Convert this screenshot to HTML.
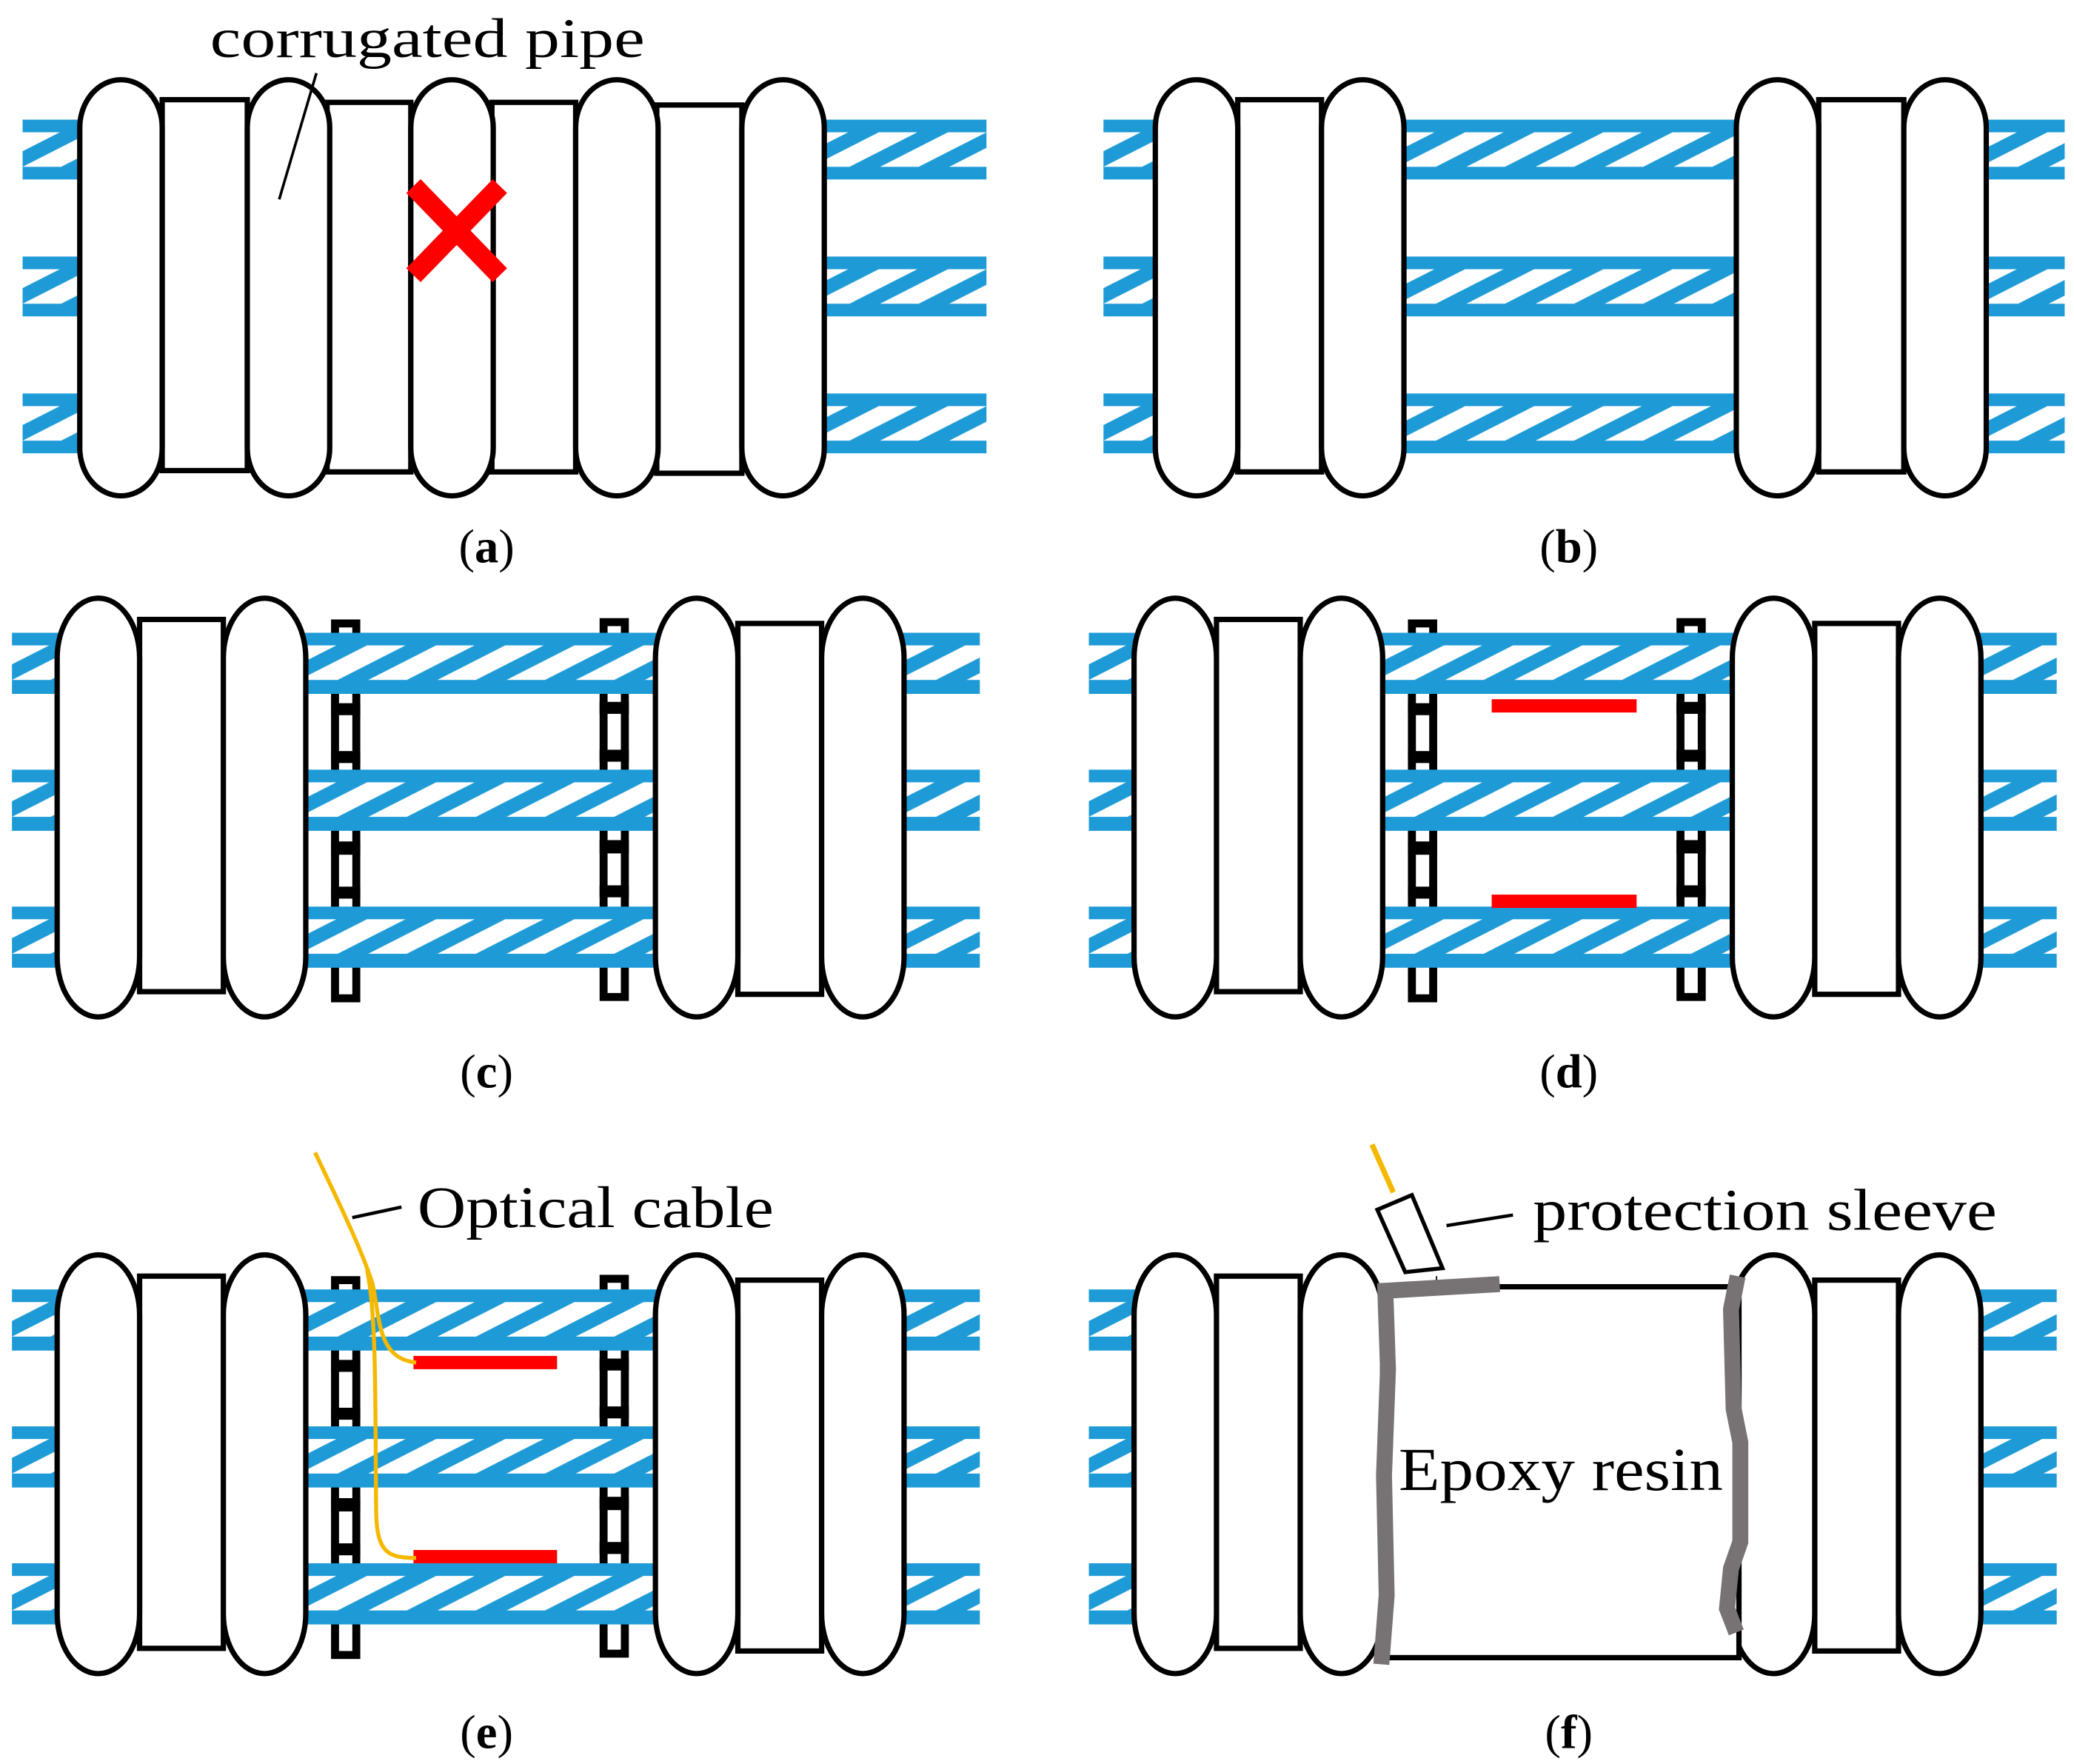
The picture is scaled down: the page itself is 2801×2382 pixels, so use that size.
<!DOCTYPE html>
<html><head><meta charset="utf-8"><style>
html,body{margin:0;padding:0;background:#fff}
svg{display:block}
text{font-family:"Liberation Serif",serif;fill:#000}
</style></head><body>
<svg width="2801" height="2382" viewBox="0 0 1560 1327" preserveAspectRatio="none" xmlns="http://www.w3.org/2000/svg">
<defs>
<pattern id="h" patternUnits="userSpaceOnUse" width="52" height="45">
<rect width="52" height="45" fill="#1e9bd7"/>
<polygon points="0,35.5 29,35.5 80,9.5 51,9.5" fill="#fff"/>
<polygon points="-52,35.5 -23,35.5 28,9.5 -1,9.5" fill="#fff"/>
<polygon points="-104,35.5 -75,35.5 -24,9.5 -53,9.5" fill="#fff"/>
</pattern>
<g id="lad">
<rect x="252" y="469" width="16" height="282" fill="none" stroke="#000" stroke-width="6"/>
<rect x="249" y="529" width="22" height="9" fill="#000"/>
<rect x="249" y="565" width="22" height="9" fill="#000"/>
<rect x="249" y="633" width="22" height="10" fill="#000"/>
<rect x="249" y="667" width="22" height="9" fill="#000"/>
</g>
<g id="pc">
<use href="#lad"/>
<use href="#lad" transform="translate(202,-1)"/>
<g>
<rect transform="translate(9,476)" width="40" height="46" fill="url(#h)"/>
<rect transform="translate(9,579)" width="40" height="46" fill="url(#h)"/>
<rect transform="translate(9,682)" width="40" height="46" fill="url(#h)"/>
<rect transform="translate(225,476)" width="272" height="46" fill="url(#h)"/>
<rect transform="translate(225,579)" width="272" height="46" fill="url(#h)"/>
<rect transform="translate(225,682)" width="272" height="46" fill="url(#h)"/>
<rect transform="translate(675,476)" width="62" height="46" fill="url(#h)"/>
<rect transform="translate(675,579)" width="62" height="46" fill="url(#h)"/>
<rect transform="translate(675,682)" width="62" height="46" fill="url(#h)"/>
</g>
<g fill="#fff" stroke="#000" stroke-width="4">
<rect x="105" y="466" width="63" height="280"/>
<rect x="555" y="469" width="63" height="279"/>
<rect x="43" y="450" width="62" height="315" rx="31" ry="45"/>
<rect x="168" y="450" width="62" height="315" rx="31" ry="45"/>
<rect x="493" y="450" width="62" height="315" rx="31" ry="45"/>
<rect x="618" y="450" width="62" height="315" rx="31" ry="45"/>
</g>
</g>
</defs>

<!-- Panel a -->
<g>
<rect transform="translate(17,90)" width="50" height="45" fill="url(#h)"/>
<rect transform="translate(17,193)" width="50" height="45" fill="url(#h)"/>
<rect transform="translate(17,296)" width="50" height="45" fill="url(#h)"/>
<rect transform="translate(610,90)" width="132" height="45" fill="url(#h)"/>
<rect transform="translate(610,193)" width="132" height="45" fill="url(#h)"/>
<rect transform="translate(610,296)" width="132" height="45" fill="url(#h)"/>
</g>
<g fill="#fff" stroke="#000" stroke-width="4">
<rect x="122" y="75" width="64" height="279"/>
<rect x="246" y="77" width="63" height="278"/>
<rect x="370" y="77" width="63" height="278"/>
<rect x="494" y="79" width="64" height="277"/>
<rect x="60" y="60" width="62" height="313" rx="31" ry="36"/>
<rect x="186" y="60" width="62" height="313" rx="31" ry="36"/>
<rect x="309" y="60" width="62" height="313" rx="31" ry="36"/>
<rect x="433" y="60" width="62" height="313" rx="31" ry="36"/>
<rect x="558" y="60" width="62" height="313" rx="31" ry="36"/>
</g>
<g stroke="#f00" stroke-width="15"><line x1="311" y1="140" x2="376" y2="207"/><line x1="376" y1="140" x2="311" y2="207"/></g>
<line x1="238" y1="55" x2="210" y2="150" stroke="#000" stroke-width="2"/>
<text x="158" y="43" font-size="42" textLength="327" lengthAdjust="spacingAndGlyphs">corrugated pipe</text>
<text x="366" y="423" font-size="36" text-anchor="middle">(<tspan font-weight="bold">a</tspan>)</text>

<!-- Panel b -->
<g transform="translate(-4,0)">
<g>
<rect transform="translate(834,90)" width="46" height="45" fill="url(#h)"/>
<rect transform="translate(834,193)" width="46" height="45" fill="url(#h)"/>
<rect transform="translate(834,296)" width="46" height="45" fill="url(#h)"/>
<rect transform="translate(1055,90)" width="260" height="45" fill="url(#h)"/>
<rect transform="translate(1055,193)" width="260" height="45" fill="url(#h)"/>
<rect transform="translate(1055,296)" width="260" height="45" fill="url(#h)"/>
<rect transform="translate(1493,90)" width="64" height="45" fill="url(#h)"/>
<rect transform="translate(1493,193)" width="64" height="45" fill="url(#h)"/>
<rect transform="translate(1493,296)" width="64" height="45" fill="url(#h)"/>
</g>
<g fill="#fff" stroke="#000" stroke-width="4">
<rect x="935" y="75" width="63" height="280"/>
<rect x="1372" y="75" width="64" height="280"/>
<rect x="873" y="60" width="62" height="313" rx="31" ry="36"/>
<rect x="998" y="60" width="62" height="313" rx="31" ry="36"/>
<rect x="1310" y="60" width="62" height="313" rx="31" ry="36"/>
<rect x="1436" y="60" width="62" height="313" rx="31" ry="36"/>
</g>
</g>
<text x="1180" y="423" font-size="36" text-anchor="middle">(<tspan font-weight="bold">b</tspan>)</text>

<!-- Panel c -->
<use href="#pc"/>
<text x="366" y="818" font-size="36" text-anchor="middle">(<tspan font-weight="bold">c</tspan>)</text>

<!-- Panel d -->
<use href="#pc" transform="translate(810,0)"/>
<rect x="1122" y="526" width="109" height="10" fill="#f00"/>
<rect x="1122" y="673" width="109" height="10" fill="#f00"/>
<text x="1180" y="818" font-size="36" text-anchor="middle">(<tspan font-weight="bold">d</tspan>)</text>

<!-- Panel e -->
<use href="#pc" transform="translate(0,494)"/>
<rect x="311" y="1020" width="108" height="10" fill="#f00"/>
<rect x="311" y="1166" width="108" height="10" fill="#f00"/>
<g fill="none" stroke="#f5b800" stroke-width="3">
<path d="M237,867 C255,905 272,940 280,965 C286,990 283,1022 313,1025"/>
<path d="M276,955 C284,990 282,1080 283,1140 C284,1168 292,1172 313,1172"/>
</g>
<line x1="265" y1="916" x2="302" y2="908" stroke="#000" stroke-width="2.5"/>
<text x="314" y="923" font-size="44" textLength="268" lengthAdjust="spacingAndGlyphs">Optical cable</text>
<text x="366" y="1315" font-size="36" text-anchor="middle">(<tspan font-weight="bold">e</tspan>)</text>

<!-- Panel f -->
<use href="#pc" transform="translate(810,494)"/>
<rect x="1050" y="955" width="30" height="12" fill="#fff"/>
<rect x="1250" y="955" width="40" height="12" fill="#fff"/>
<rect x="1040" y="968" width="268" height="279" fill="#fff" stroke="#000" stroke-width="4"/>
<g fill="none" stroke="#777273" stroke-width="12" stroke-linejoin="miter">
<path d="M1128,966 L1042,971 L1044,1030 L1041,1110 L1043,1200 L1039,1252"/>
<path d="M1307,960 L1302,985 L1304,1060 L1309,1085 L1309,1160 L1302,1180 L1299,1210 L1306,1228"/>
</g>
<polygon points="1036,910 1062,899 1085,954 1057,957" fill="#fff" stroke="#000" stroke-width="3"/>
<line x1="1032" y1="861" x2="1048" y2="897" stroke="#f5b800" stroke-width="4"/>
<line x1="1088" y1="922" x2="1138" y2="914" stroke="#000" stroke-width="2.5"/>
<text x="1153" y="925" font-size="44" textLength="349" lengthAdjust="spacingAndGlyphs">protection sleeve</text>
<text x="1052" y="1121" font-size="46" textLength="244" lengthAdjust="spacingAndGlyphs">Epoxy resin</text>
<text x="1180" y="1315" font-size="36" text-anchor="middle">(<tspan font-weight="bold">f</tspan>)</text>
</svg>
</body></html>
